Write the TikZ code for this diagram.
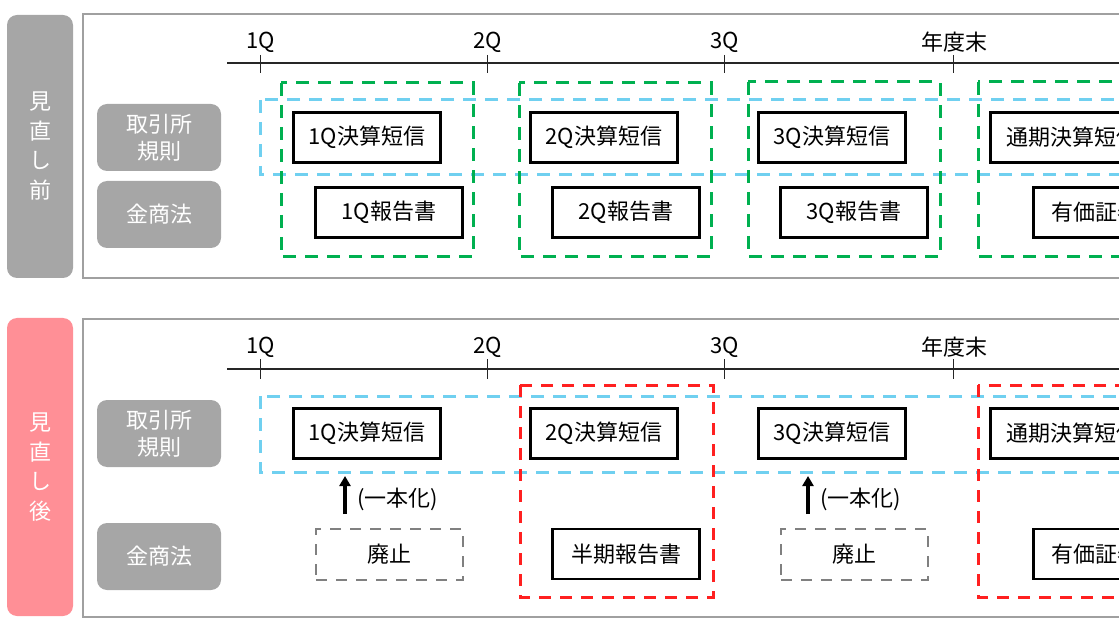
\documentclass[tikz,border=0pt]{standalone}
\usepackage{fontspec}
\setmainfont{Noto Sans CJK JP}
\usetikzlibrary{arrows.meta}
\definecolor{lblgray}{HTML}{A6A6A6}
\definecolor{lblpink}{HTML}{FF8F96}
\definecolor{frgray}{HTML}{A0A0A0}
\definecolor{dblue}{HTML}{70D0F0}
\definecolor{dgreen}{HTML}{00B050}
\definecolor{dred}{HTML}{FF2020}
\definecolor{dgray}{HTML}{808080}
\newcommand{\labfont}{\fontsize{22pt}{27pt}\selectfont}
\begin{document}
\begin{tikzpicture}[x=1pt,y=-1pt,
  sidebar/.style={rounded corners=10pt},
  sidetext/.style={text=white, align=center, font=\fontsize{22pt}{29.5pt}\selectfont, inner sep=0},
  frame/.style={draw=frgray, line width=1.6pt},
  rowlbl/.style={fill=lblgray, rounded corners=10pt, text=white, minimum width=124pt, minimum height=67pt, inner sep=0, align=center, font=\fontsize{22pt}{27pt}\selectfont},
  doc/.style={draw=black, line width=2.8pt, minimum width=147pt, minimum height=50pt, inner sep=0, font=\labfont},
  gone/.style={draw=dgray, line width=2.8pt, dash pattern=on 11pt off 9pt, minimum width=147pt, minimum height=51pt, inner sep=0, font=\labfont},
  bluedash/.style={draw=dblue, line width=3pt, dash pattern=on 13pt off 9pt},
  greendash/.style={draw=dgreen, line width=3pt, dash pattern=on 13pt off 9pt},
  reddash/.style={draw=dred, line width=3pt, dash pattern=on 12pt off 9pt},
  tline/.style={draw=black!85, line width=1.5pt},
  tick/.style={draw=black!85, line width=1pt},
  tlabel/.style={font=\labfont, inner sep=0},
  upar/.style={line width=3.4pt, -{Triangle[width=11pt,length=10pt]}},
  note/.style={font=\labfont, anchor=west, inner sep=0}
]
\useasboundingbox (0,0) rectangle (1119,628);
\clip (0,0) rectangle (1119,628);

% ================= TOP PANEL (before) =================
\fill[lblgray, sidebar] (7,15) rectangle (73,278);
\node[sidetext] (sideA) at (40,146) {見\\直\\し\\前};
\draw[frame] (83,14) rectangle (1135,278);

% timeline
\coordinate (tlA0) at (227,63);
\coordinate (tlA1) at (1135,63);
\draw[tline] (tlA0) -- (tlA1);
\foreach \x/\t/\n in {260/1Q/a, 487/2Q/b, 724/3Q/c, 953/年度末/d}{
  \draw[tick] (\x,55) -- (\x,73);
  \node[tlabel] (tA\n) at (\x+1,42) {\t};
}

% row labels
\node[rowlbl] (rA1) at (159,137.5) {取引所\\規則};
\node[rowlbl] (rA2) at (159,214.5) {金商法};

% blue dashed band
\draw[bluedash] (260,100) rectangle (1140,175);

% green dashed groups
\draw[greendash] (281,83) rectangle (473,257);
\draw[greendash] (519,83) rectangle (711,257);
\draw[greendash] (748,82) rectangle (940,257);
\draw[greendash] (978,82) rectangle (1145,257);

% documents
\node[doc] (dA1) at (367,137.5) {1Q決算短信};
\node[doc] (dA2) at (389,212.5) {1Q報告書};
\node[doc] (dA3) at (604,137.5) {2Q決算短信};
\node[doc] (dA4) at (626,212.5) {2Q報告書};
\node[doc] (dA5) at (832,137.5) {3Q決算短信};
\node[doc] (dA6) at (854,212.5) {3Q報告書};
\node[doc, minimum width=163pt] (dA7) at (1072,137.5) {通期決算短信};
\node[doc, minimum width=189pt] (dA8) at (1128,212.5) {有価証券報告書};

% ================= BOTTOM PANEL (after) =================
\fill[lblpink, sidebar] (7,318) rectangle (73,616);
\node[sidetext] (sideB) at (40,467) {見\\直\\し\\後};
\draw[frame] (83,319) rectangle (1135,617);

% timeline
\coordinate (tlB0) at (227,369);
\coordinate (tlB1) at (1135,369);
\draw[tline] (tlB0) -- (tlB1);
\foreach \x/\t/\n in {260/1Q/a, 487/2Q/b, 724/3Q/c, 953/年度末/d}{
  \draw[tick] (\x,359) -- (\x,379);
  \node[tlabel] (tB\n) at (\x+1,347) {\t};
}

% row labels
\node[rowlbl] (rB1) at (159,433.5) {取引所\\規則};
\node[rowlbl] (rB2) at (159,556.5) {金商法};

% blue dashed band
\draw[bluedash] (260,396) rectangle (1140,472);

% red dashed groups
\draw[reddash] (520,385) rectangle (713,597);
\draw[reddash] (978,385) rectangle (1145,597);

% documents
\node[doc] (dB1) at (367,433.5) {1Q決算短信};
\node[doc] (dB3) at (604,433.5) {2Q決算短信};
\node[doc] (dB5) at (832,433.5) {3Q決算短信};
\node[doc, minimum width=163pt] (dB7) at (1072,433.5) {通期決算短信};
\node[doc] (dB4) at (626,554) {半期報告書};
\node[doc, minimum width=189pt] (dB8) at (1128,554) {有価証券報告書};

% abolished reports
\node[gone] (gB1) at (389.5,554.5) {廃止};
\node[gone] (gB2) at (854.5,554.5) {廃止};

% unification arrows
\coordinate (aB1s) at (345,514);
\coordinate (aB1e) at (345,476);
\coordinate (aB2s) at (808,514);
\coordinate (aB2e) at (808,476);
\draw[upar] (aB1s) -- (aB1e);
\draw[upar] (aB2s) -- (aB2e);
\node[note] (nB1) at (357,499) {(一本化)};
\node[note] (nB2) at (820,499) {(一本化)};
\end{tikzpicture}
\end{document}
